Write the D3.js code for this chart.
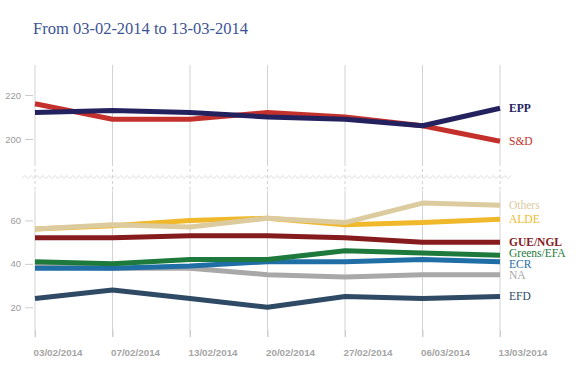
<!DOCTYPE html>
<html>
<head>
<meta charset="utf-8">
<script src="https://cdn.jsdelivr.net/npm/d3@7"></script>
<style>
  body { margin: 0; background: #fff; }
  svg { display: block; }
</style>
</head>
<body>
<svg id="chart"></svg>
<script>
// dates on the x axis
const dates = ["03/02/2014", "07/02/2014", "13/02/2014", "20/02/2014", "27/02/2014", "06/03/2014", "13/03/2014"];

// seats per group
const epp = [212, 213, 212, 210, 209, 206, 214];
const snd = [216, 209, 209, 212, 210, 206, 199];
const others = [56, 58, 57, 61, 59, 68, 67];
const alde = [56, 57.5, 60, 61, 58, 59, 60.5];
const gue = [52, 52, 53, 53, 52, 50, 50];
const greens = [41, 40, 42, 42, 46, 45, 44];
const ecr = [38, 38, 39, 41, 41, 42, 41];
const na = [39, 38, 38, 35, 34, 35, 35];
const efd = [24, 28, 24, 20, 25, 24, 25];

const upperTicks = [200, 220];
const lowerTicks = [20, 40, 60];

const series = [
  {name: "EPP", values: epp, color: "#23225e", part: "upper"},
  {name: "S&D", values: snd, color: "#c4302b", part: "upper"},
  {name: "Others", values: others, color: "#dccb9e", part: "lower"},
  {name: "ALDE", values: alde, color: "#f0b92c", part: "lower"},
  {name: "GUE/NGL", values: gue, color: "#851b1d", part: "lower"},
  {name: "Greens/EFA", values: greens, color: "#1d7a3c", part: "lower"},
  {name: "ECR", values: ecr, color: "#1f6ea6", part: "lower"},
  {name: "NA", values: na, color: "#a8a8a8", part: "lower"},
  {name: "EFD", values: efd, color: "#2e4a64", part: "lower"}
];

const width = 586, height = 376;
const gridTop = 65, gridBottom = 337, breakY = 177;

const svg = d3.select("#chart").attr("width", width).attr("height", height);

const x = d3.scalePoint(dates, [35, 500]);
const yUpper = d3.scaleLinear([185, 235], [172, 62]);
const yLower = d3.scaleLinear([10, 80], [329, 177]);
const yOf = s => s.part === "upper" ? yUpper : yLower;

// title
svg.append("text")
  .attr("x", 33).attr("y", 34)
  .attr("font-family", "Georgia, 'Liberation Serif', serif")
  .attr("font-size", 16.5)
  .attr("fill", "#3d5494")
  .text("From 03-02-2014 to 13-03-2014");

// vertical grid, dashed near the break
const grid = svg.append("g").attr("stroke", "#d2d2d2").attr("stroke-width", 1);
dates.forEach(d => {
  grid.append("line").attr("x1", x(d)).attr("x2", x(d)).attr("y1", gridTop).attr("y2", 163);
  grid.append("line").attr("x1", x(d)).attr("x2", x(d)).attr("y1", 163).attr("y2", 191)
    .attr("stroke-dasharray", "3,3");
  grid.append("line").attr("x1", x(d)).attr("x2", x(d)).attr("y1", 191).attr("y2", gridBottom);
});

// zigzag for the broken axis
const zig = d3.range(22, 513, 3).map((px, i) => [px, breakY + (i % 2 ? -1.5 : 1.5)]);
svg.append("path")
  .attr("d", d3.line()(zig))
  .attr("fill", "none")
  .attr("stroke", "#dcdcdc")
  .attr("stroke-width", 1);

// y axes
function yAxis(scale, ticks) {
  svg.append("g")
    .attr("transform", "translate(33,0)")
    .call(d3.axisLeft(scale).tickValues(ticks).tickSize(8).tickPadding(4))
    .call(g => g.select(".domain").remove())
    .call(g => g.selectAll(".tick line").attr("stroke", "#cccccc"))
    .call(g => g.selectAll(".tick text")
      .attr("fill", "#9a9a9a")
      .attr("font-family", "Arial, 'Liberation Sans', sans-serif")
      .attr("font-size", 9.5));
}
yAxis(yUpper, upperTicks);
yAxis(yLower, lowerTicks);

// x axis
svg.append("g")
  .attr("transform", `translate(0,${gridBottom - 7})`)
  .call(d3.axisBottom(x).tickSize(7).tickPadding(12))
  .call(g => g.select(".domain").remove())
  .call(g => g.selectAll(".tick line").attr("stroke", "#cccccc"))
  .call(g => g.selectAll(".tick text")
    .attr("text-anchor", "start")
    .attr("dx", -2)
    .attr("fill", "#a5a5a5")
    .attr("font-weight", "bold")
    .attr("font-family", "Arial, 'Liberation Sans', sans-serif")
    .attr("font-size", 9.8));

// lines, drawn bottom-up so upper-listed ones sit on top
const line = s => d3.line()
  .x((v, i) => x(dates[i]))
  .y(v => yOf(s)(v));

svg.append("g")
  .selectAll("path")
  .data(series.slice().reverse())
  .join("path")
  .attr("d", s => line(s)(s.values))
  .attr("fill", "none")
  .attr("stroke", s => s.color)
  .attr("stroke-width", 5)
  .attr("stroke-linejoin", "round");

// end labels with a small dodge so they don't overlap
const labels = series.map(s => ({s, y: yOf(s)(s.values[s.values.length - 1])}));
const minGap = 11;
for (let k = 0; k < 60; k++) {
  labels.sort((a, b) => a.y - b.y);
  for (let i = 1; i < labels.length; i++) {
    const a = labels[i - 1], b = labels[i];
    const overlap = minGap - (b.y - a.y);
    if (overlap > 0) { a.y -= overlap / 2; b.y += overlap / 2; }
  }
}

svg.append("g")
  .attr("font-family", "Georgia, 'Liberation Serif', serif")
  .attr("font-size", 11.5)
  .selectAll("text")
  .data(labels)
  .join("text")
  .attr("x", 509)
  .attr("y", d => d.y)
  .attr("dy", "0.35em")
  .attr("fill", d => d.s.color)
  .attr("font-weight", d => ["EPP", "GUE/NGL"].includes(d.s.name) ? "bold" : "normal")
  .text(d => d.s.name);
</script>
</body>
</html>
